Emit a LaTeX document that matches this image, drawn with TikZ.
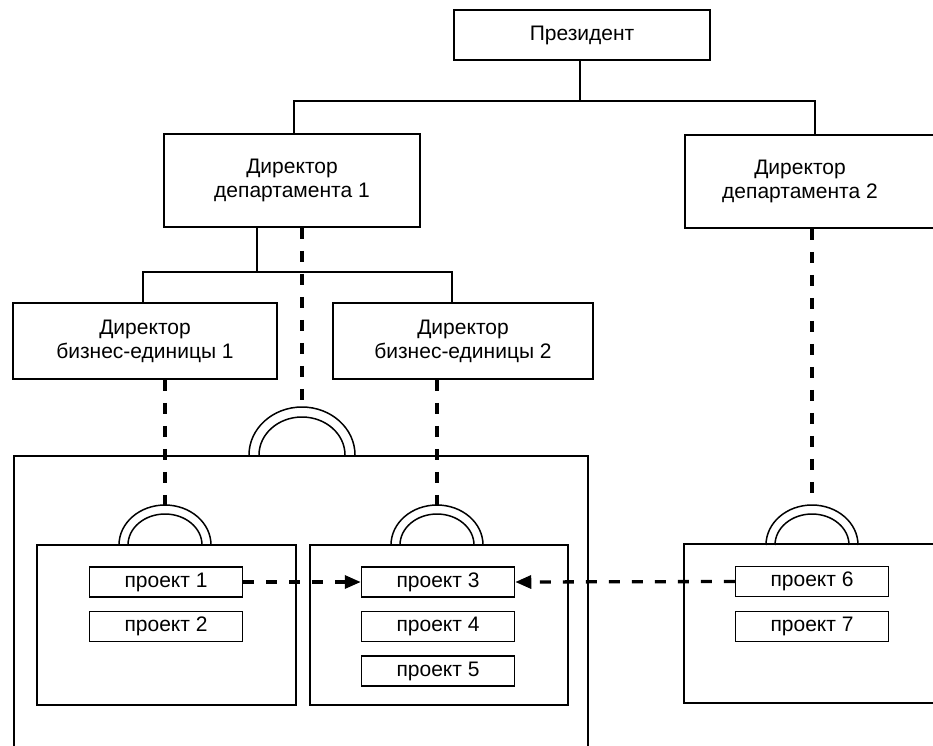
\documentclass[tikz,border=0pt]{standalone}
\usepackage{fontspec}
\setmainfont{Liberation Sans}
\usetikzlibrary{arrows.meta,calc}
\begin{document}
\begin{tikzpicture}[x=1pt,y=-1pt,
  box/.style={draw, line width=1.5pt, inner sep=0pt, align=center, font=\fontsize{21}{24}\selectfont},
  txt/.style={inner sep=0pt, align=center, font=\fontsize{21}{24}\selectfont},
  frame/.style={draw, line width=1.5pt, inner sep=0pt},
  proj/.style={box, minimum width=153pt, minimum height=30pt},
  conn/.style={line width=1.4pt},
  dline/.style={line width=3.3pt, dash pattern=on 11pt off 12pt},
  arch/.style={line width=1.5pt},
  head/.style={-{Triangle[length=16pt,width=13pt]}}
]
\useasboundingbox (0,0) rectangle (933,745);
\fill[white] (0,0) rectangle (933,745);
\clip (0,0) rectangle (933,745);

% top level
\node[box, minimum width=256pt, minimum height=50pt] (pres) at (582,35) {Президент};
\node[box, minimum width=256pt, minimum height=93pt] (dep1) at (292,180.5) {Директор\\департамента 1};
\node[frame, minimum width=262pt, minimum height=93pt] (dep2) at (816,181.5) {};
\node[txt] (dep2t) at (800,181.5) {Директор\\департамента 2};
\node[box, minimum width=264pt, minimum height=76pt] (bu1) at (145,341) {Директор\\бизнес-единицы 1};
\node[box, minimum width=260pt, minimum height=76pt] (bu2) at (463,341) {Директор\\бизнес-единицы 2};

% containers
\node[frame, minimum width=574pt, minimum height=320pt, anchor=north west] (big) at (13,455) {};
\node[frame, minimum width=259pt, minimum height=160pt] (in1) at (166.5,625) {};
\node[frame, minimum width=258pt, minimum height=160pt] (in2) at (439,625) {};
\node[frame, minimum width=261pt, minimum height=159pt] (in3) at (814.5,623.5) {};

% projects
\node[proj] (p1) at (166,582) {проект 1};
\node[proj] (p2) at (166,626.5) {проект 2};
\node[proj] (p3) at (438,582) {проект 3};
\node[proj] (p4) at (438,626.5) {проект 4};
\node[proj] (p5) at (438,671) {проект 5};
\node[proj] (p6) at (812,581.5) {проект 6};
\node[proj] (p7) at (812,626.5) {проект 7};

% arches
\coordinate (aB) at (302,407);
\coordinate (a1) at (165,505);
\coordinate (a2) at (437,505);
\coordinate (a3) at (812,505);
\draw[arch] (249,455) arc[start angle=180,end angle=0,x radius=53pt,y radius=48pt];
\draw[arch] (259,455) arc[start angle=180,end angle=0,x radius=43pt,y radius=38pt];
\foreach \cx in {165,437,812}{
  \draw[arch] (\cx-46,545) arc[start angle=180,end angle=0,x radius=46pt,y radius=40pt];
  \draw[arch] (\cx-37,545) arc[start angle=180,end angle=0,x radius=37pt,y radius=31pt];
}

% solid connectors
\coordinate (top) at (580,101);
\coordinate (d1) at (294,101);
\coordinate (d2) at (815,101);
\draw[conn] (top |- pres.south) -- (top);
\draw[conn] (d1 |- dep1.north) -- (d1) -- (d2) -- (d2 |- dep2.north);
\coordinate (m) at (257,272);
\coordinate (b1) at (143,272);
\coordinate (b2) at (452,272);
\draw[conn] (m |- dep1.south) -- (m);
\draw[conn] (b1 |- bu1.north) -- (b1) -- (b2) -- (b2 |- bu2.north);

% dashed connectors
\draw[dline] (aB |- dep1.south) -- (aB);
\draw[dline] (a1 |- bu1.south) -- (a1);
\draw[dline] (a2 |- bu2.south) -- (a2);
\draw[dline] (a3 |- dep2.south) -- (a3);

% project links
\draw[dline, head] (p1.east) -- (p3.west);
\draw[dline, head] (p6.west) -- (p3.east);
\end{tikzpicture}
\end{document}
